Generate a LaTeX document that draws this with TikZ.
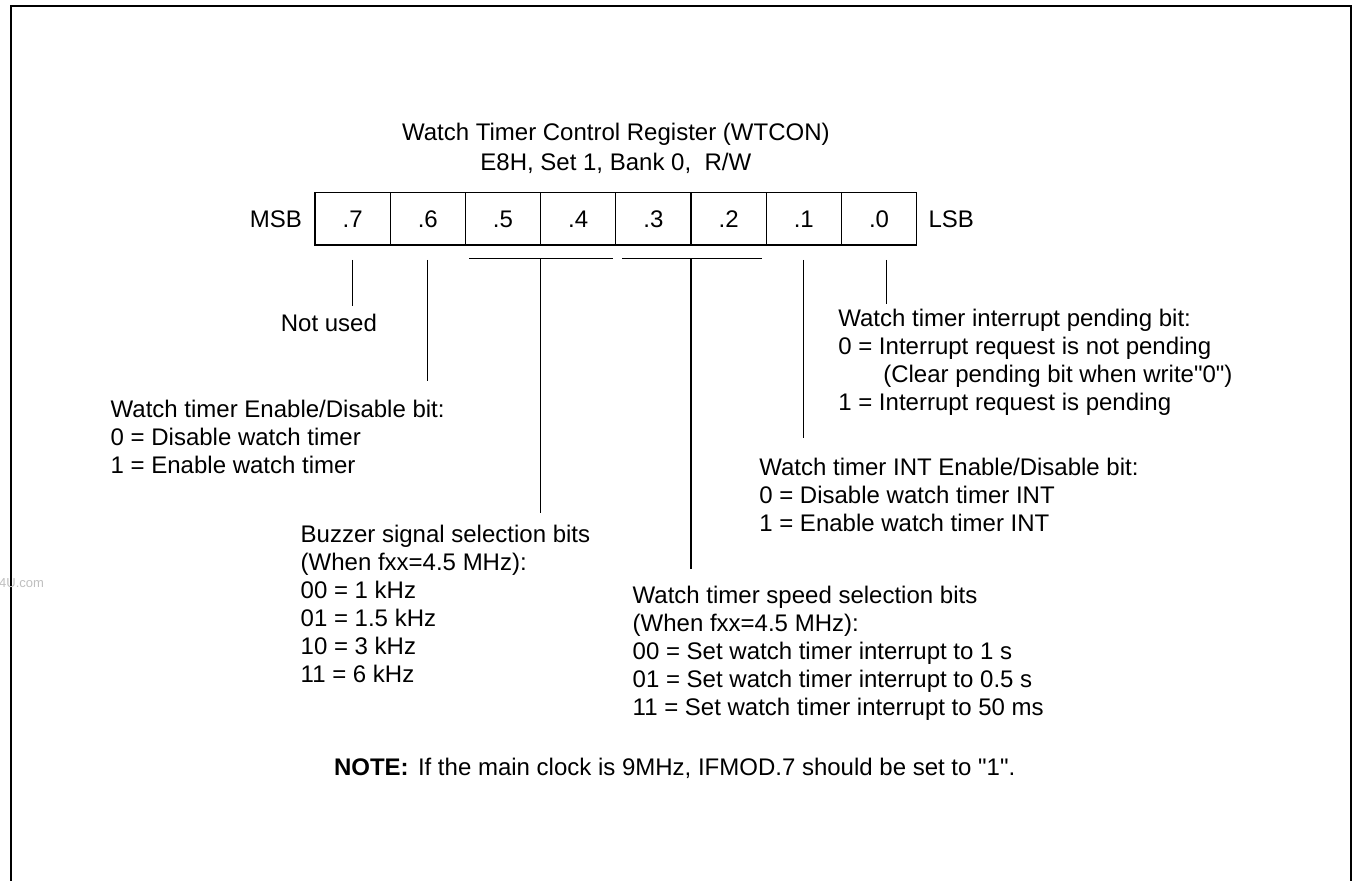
\documentclass[tikz,border=0pt]{standalone}
\usepackage{fontspec}
\setmainfont{Liberation Sans}
\usepackage{tikz}
\usetikzlibrary{calc, positioning}
\newcommand\sdq{\XeTeXglyph\XeTeXcharglyph"22\relax}

\begin{document}
\begin{tikzpicture}[
  x=0.5pt, y=-0.5pt,
  every node/.style={inner sep=0pt, outer sep=0pt, font=\fontsize{12}{14}\selectfont},
  bitcell/.style={draw, line width=0.6pt, minimum width=37.6pt, minimum height=26.15pt,
    text height=8.6pt, text depth=0pt},
  txt/.style={anchor=north west, align=left},
  lead/.style={line width=0.6pt}
]
\useasboundingbox (0,0) rectangle (1353,881);
\draw[line width=1pt] (11,881) -- (11,6) -- (1351,6) -- (1351,881);
\node (wm) [anchor=east, text=black!25, font=\fontsize{6.5}{7}\selectfont] at (44,583) {4U.com};

\node (title) [anchor=north, align=center, font=\fontsize{12}{15}\selectfont] at (615.8,122.7)
  {Watch Timer Control Register (WTCON)\\E8H, Set 1, Bank 0,\ \ R/W};

\node (b7) [bitcell, anchor=north west] at (315,192.7) {.7};
\node (b6) [bitcell, right=0pt of b7] {.6};
\node (b5) [bitcell, right=0pt of b6] {.5};
\node (b4) [bitcell, right=0pt of b5] {.4};
\node (b3) [bitcell, right=0pt of b4] {.3};
\node (b2) [bitcell, right=0pt of b3] {.2};
\node (b1) [bitcell, right=0pt of b2] {.1};
\node (b0) [bitcell, right=0pt of b1] {.0};
\node (msb) [left=6.5pt of b7] {MSB};
\node (lsb) [right=6pt of b0] {LSB};

\node (nu) [anchor=north] at (328.9,314) {Not used};
\node (wen) [txt] at (110.7,400.3) {Watch timer Enable/Disable bit:\\0 = Disable watch timer\\1 = Enable watch timer};
\node (buz) [txt] at (300.7,525) {Buzzer signal selection bits\\(When fxx=4.5 MHz):\\00 = 1 kHz\\01 = 1.5 kHz\\10 = 3 kHz\\11 = 6 kHz};
\node (spd) [txt] at (632.7,586) {Watch timer speed selection bits\\(When fxx=4.5 MHz):\\00 = Set watch timer interrupt to 1 s\\01 = Set watch timer interrupt to 0.5 s\\11 = Set watch timer interrupt to 50 ms};
\node (wint) [txt] at (759.3,457.7) {Watch timer INT Enable/Disable bit:\\0 = Disable watch timer INT\\1 = Enable watch timer INT};
\node (ipend) [txt] at (838.3,309.3) {Watch timer interrupt pending bit:\\0 = Interrupt request is not pending\\\hspace*{22.5pt}(Clear pending bit when write\sdq0\sdq)\\1 = Interrupt request is pending};
\node (note) [anchor=base west, font=\fontsize{12}{14}\selectfont\bfseries] at (334,775.3) {NOTE:};
\node (notetxt) [anchor=base west] at (418,775.3) {If the main clock is 9MHz, IFMOD.7 should be set to \sdq1\sdq.};

\coordinate (m54) at ($(b5.south east)+(0,13.3)$);
\coordinate (m32) at ($(b3.south east)+(0,13.3)$);
\draw[lead] ($(b5.south west)+(3.6,13.3)$) -- ($(b4.south east)+(-2.8,13.3)$);
\draw[lead] ($(b3.south west)+(6.2,13.3)$) -- ($(b2.south east)+(-4.2,13.3)$);

\draw[lead] ($(b7.south)+(0,15)$) -- ($(b7.south |- nu.north)+(0,-8)$);
\draw[lead] ($(b6.south)+(0,15)$) -- ($(b6.south |- wen.north)+(0,-19)$);
\draw[lead] (m54) -- ($(m54 |- buz.north)+(0,-12.3)$);
\draw[lead] (m32) -- ($(m32 |- spd.north)+(0,-16.7)$);
\draw[lead] ($(b1.south)+(0,15)$) -- ($(b1.south |- wint.north)+(0,-20)$);
\draw[lead] ($(b0.south)+(7.7,15)$) -- ($(b0.south |- ipend.north)+(7.7,-5)$);
\end{tikzpicture}
\end{document}
